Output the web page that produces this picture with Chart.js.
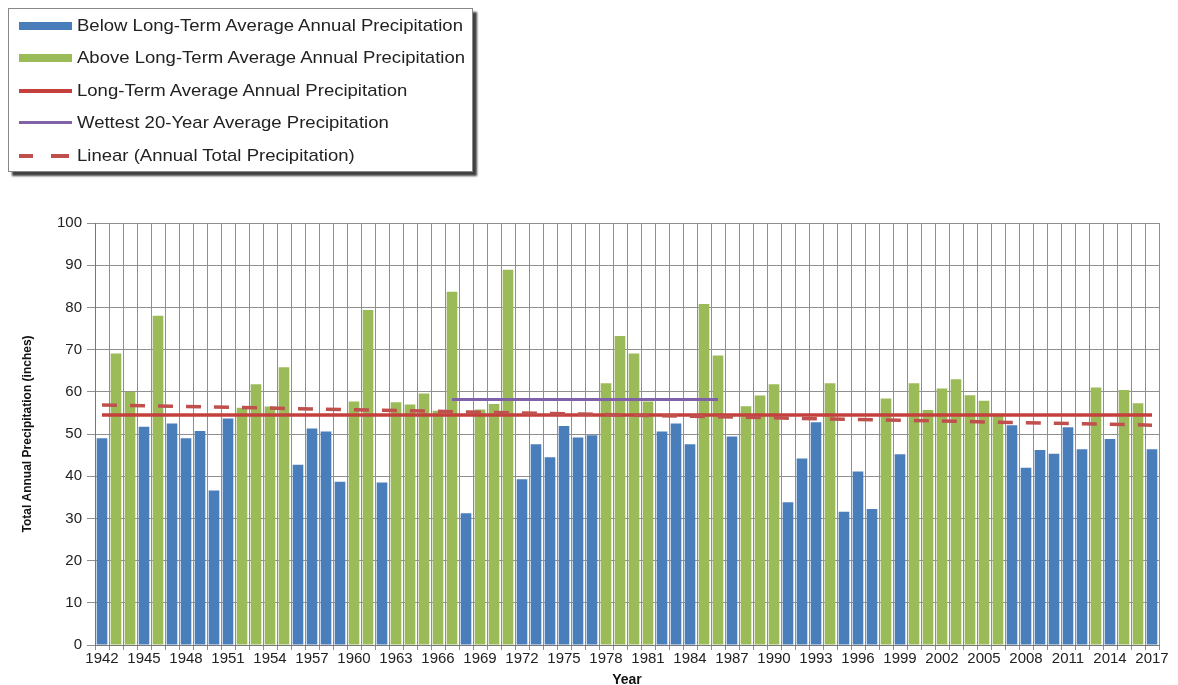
<!DOCTYPE html>
<html>
<head>
<meta charset="utf-8">
<script src="https://cdn.jsdelivr.net/npm/chart.js@4/dist/chart.umd.min.js"></script>
<style>
  html, body { margin: 0; padding: 0; background: #fff; overflow: hidden; }
  #wrap { position: relative; width: 1178px; height: 685px; }
  #chart { position: absolute; left: 0; top: 0; }
  #legend {
    position: absolute; left: 8px; top: 8px; width: 463px; height: 162px;
    border: 1px solid #888; background: #fff;
    box-shadow: 4px 4px 2px rgba(0,0,0,0.75);
    font-family: "Liberation Sans", Arial, sans-serif; font-size: 17px; color: #222;
  }
  .row { position: absolute; left: 0; height: 20px; line-height: 20px; white-space: nowrap; }
  .row .txt { position: absolute; left: 68px; top: 0; transform: scaleX(1.09); transform-origin: left center; }
  .sw { position: absolute; left: 10px; width: 53px; }
</style>
</head>
<body>
<div id="wrap">
  <canvas id="chart" width="1178" height="689"></canvas>
  <div id="legend"></div>
</div>
<script>
const years = ['1942','1943','1944','1945','1946','1947','1948','1949','1950','1951',
  '1952','1953','1954','1955','1956','1957','1958','1959','1960','1961',
  '1962','1963','1964','1965','1966','1967','1968','1969','1970','1971',
  '1972','1973','1974','1975','1976','1977','1978','1979','1980','1981',
  '1982','1983','1984','1985','1986','1987','1988','1989','1990','1991',
  '1992','1993','1994','1995','1996','1997','1998','1999','2000','2001',
  '2002','2003','2004','2005','2006','2007','2008','2009','2010','2011',
  '2012','2013','2014','2015','2016','2017'];

// annual total precipitation (inches)
const precip = [49.0, 69.1, 60.0, 51.7, 78.0, 52.5, 49.0, 50.7, 36.6, 53.7,
  56.2, 61.8, 56.5, 65.8, 42.7, 51.3, 50.6, 38.7, 57.7, 79.4,
  38.5, 57.5, 57.0, 59.6, 55.5, 83.7, 31.2, 55.8, 57.1, 88.9,
  39.3, 47.6, 44.5, 51.9, 49.2, 49.7, 62.0, 73.2, 69.1, 57.7,
  50.6, 52.5, 47.6, 80.8, 68.6, 49.4, 56.6, 59.1, 61.8, 33.8,
  44.2, 52.8, 62.0, 31.6, 41.1, 32.2, 58.4, 45.2, 62.0, 55.7,
  60.8, 63.0, 59.2, 57.9, 54.8, 52.1, 42.0, 46.2, 45.3, 51.6,
  46.4, 61.0, 48.8, 60.4, 57.3, 46.4];

const longTermAvg = 54.5;
const wettestAvg = 58.2;
const wettestYears = ['1967', '1986'];
const trendEnds = [56.9, 52.1];   // linear trend at 1942 and 2017
const yTicks = [0, 100, 10];      // min, max, step

const seriesNames = [
  'Below Long-Term Average Annual Precipitation',
  'Above Long-Term Average Annual Precipitation',
  'Long-Term Average Annual Precipitation',
  'Wettest 20-Year Average Precipitation',
  'Linear (Annual Total Precipitation)'
];
const colors = ['#4a7ebb', '#9bbb59', '#c4403c', '#7f62a8', '#c0504d'];

const below = precip.map(v => v < longTermAvg ? v : null);
const above = precip.map(v => v >= longTermAvg ? v : null);
const first = years[0], last = years[years.length - 1];

const font = 'Liberation Sans';
const gridColor = '#8f8f8f';

new Chart(document.getElementById('chart'), {
  type: 'bar',
  data: {
    labels: years,
    datasets: [
      { label: seriesNames[0], data: below, backgroundColor: colors[0], grouped: false, order: 2,
        barPercentage: 0.76, categoryPercentage: 1 },
      { label: seriesNames[1], data: above, backgroundColor: colors[1], grouped: false, order: 2,
        barPercentage: 0.76, categoryPercentage: 1 },
      { type: 'line', label: seriesNames[2], order: 1,
        data: [{x: first, y: longTermAvg}, {x: last, y: longTermAvg}],
        borderColor: colors[2], borderWidth: 3.5, pointRadius: 0 },
      { type: 'line', label: seriesNames[3], order: 1,
        data: [{x: wettestYears[0], y: wettestAvg}, {x: wettestYears[1], y: wettestAvg}],
        borderColor: colors[3], borderWidth: 3, pointRadius: 0 },
      { type: 'line', label: seriesNames[4], order: 0,
        data: [{x: first, y: trendEnds[0]}, {x: last, y: trendEnds[1]}],
        borderColor: colors[4], borderWidth: 3.5, borderDash: [15, 13], pointRadius: 0 }
    ]
  },
  options: {
    responsive: false,
    animation: false,
    layout: { padding: { top: 223, right: 19, left: 0, bottom: 0 } },
    plugins: { legend: { display: false }, tooltip: { enabled: false } },
    scales: {
      x: {
        afterFit: s => { s.height = 44; },
        grid: { color: gridColor, lineWidth: 1, offset: true, tickLength: 5 },
        border: { color: '#777', width: 1 },
        ticks: {
          autoSkip: false, maxRotation: 0, padding: 0,
          color: '#222', font: { family: font, size: 15 },
          callback: function (value, index) {
            return index % 3 === 0 ? this.getLabelForValue(value) : '';
          }
        },
        title: { display: true, text: 'Year', color: '#111',
          font: { family: font, size: 14, weight: 'bold' }, padding: { top: 0, bottom: 0 } }
      },
      y: {
        min: yTicks[0], max: yTicks[1],
        afterFit: s => { s.width = 95; },
        grid: { color: gridColor, lineWidth: 1, tickLength: 8 },
        border: { color: '#777', width: 1 },
        ticks: { stepSize: yTicks[2], padding: 5, color: '#222', font: { family: font, size: 15 } },
        title: { display: true, text: 'Total Annual Precipitation (inches)', color: '#111',
          font: { family: font, size: 12, weight: 'bold' }, padding: { top: 20, bottom: 0 } }
      }
    }
  }
});

// legend box
const legend = document.getElementById('legend');
const rowTops = [7, 39, 72, 104, 137];
const swatches = [
  '<div class="sw" style="top:6px;height:8px;background:' + colors[0] + '"></div>',
  '<div class="sw" style="top:6px;height:8px;background:' + colors[1] + '"></div>',
  '<div class="sw" style="top:8px;height:4px;background:' + colors[2] + '"></div>',
  '<div class="sw" style="top:8px;height:3px;background:' + colors[3] + '"></div>',
  '<div class="sw" style="top:8px;height:4px;width:14px;background:' + colors[4] + '"></div>' +
  '<div class="sw" style="top:8px;height:4px;left:42px;width:18px;background:' + colors[4] + '"></div>'
];
seriesNames.forEach((name, i) => {
  const row = document.createElement('div');
  row.className = 'row';
  row.style.top = rowTops[i] + 'px';
  row.innerHTML = swatches[i] + '<span class="txt">' + name + '</span>';
  legend.appendChild(row);
});
</script>
</body>
</html>
